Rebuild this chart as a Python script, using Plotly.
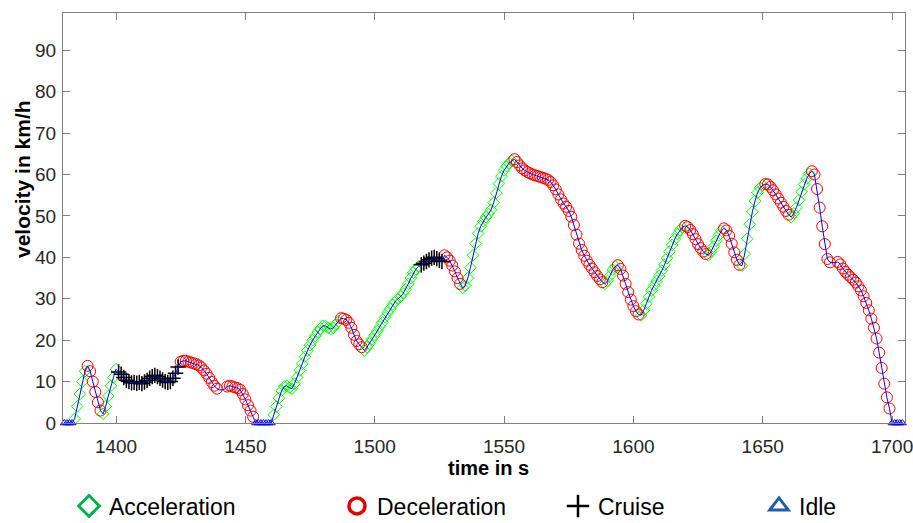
import plotly.graph_objects as go

# ---- data (1 Hz samples starting at t = 1380 s) ----
t_start = 1380
velocity_kmh = [
    0, 0, 0, 0,
    1.0, 4.0, 7.0, 10.0, 12.5,
    13.8, 12.5, 10.0, 7.5, 5.0, 3.0,
    2.2, 4.0, 6.5, 9.0, 11.0, 13.0,
    12.3, 11.8, 11.0, 10.3, 10.0, 9.7, 9.8, 9.6, 9.8, 9.5, 9.9, 10.3, 10.8, 11.2, 11.5, 11.2, 10.8, 10.4, 10.0, 9.8, 10.0, 10.8, 12.0, 13.5,
    14.8, 15.0, 15.0, 14.8, 14.6, 14.4, 14.2, 13.9, 13.4, 12.7, 11.9, 10.9, 9.9, 9.0, 8.3,
    8.0, 8.0, 8.2,
    8.8, 9.0, 8.8, 8.6, 8.4, 8.0, 7.0, 5.7, 4.3, 3.0, 1.5,
    0, 0, 0, 0, 0, 0, 0,
    2.0, 4.0, 6.0, 7.8, 8.8, 9.0, 8.5, 8.3, 9.5, 11.0, 12.7, 14.3, 16.0, 17.5, 18.8, 20.0, 21.0, 22.0, 22.8, 23.5, 23.4, 23.0, 22.7, 23.0, 23.8, 24.5,
    25.3, 25.2, 24.9, 24.2, 23.0, 21.3, 19.8, 19.0, 18.3,
    17.5, 18.3, 19.2, 20.2, 21.2, 22.2, 23.3, 24.3, 25.5, 26.6, 27.6, 28.6, 29.4, 30.0, 30.5, 31.3, 32.3, 33.6, 35.0, 36.3, 37.2, 37.8,
    38.2, 38.6, 39.0, 39.4, 39.8, 40.0, 39.7, 39.3, 39.0,
    40.5, 40.0, 39.2, 38.0, 36.6, 35.0, 33.6,
    32.6, 33.2, 35.0, 37.5, 40.5, 43.3, 45.8, 47.5, 48.7, 49.7, 50.5, 51.5, 53.2, 55.5, 57.8, 59.6, 61.0, 62.0, 62.8, 63.3,
    63.7, 63.0, 62.2, 61.5, 61.0, 60.6, 60.3, 60.0, 59.8, 59.6, 59.4, 59.2, 59.0, 58.7, 58.2, 57.4, 56.4, 55.2, 54.0, 53.0,
    52.2, 51.2, 49.8, 47.8, 45.5, 43.3, 41.8, 40.4, 39.2, 38.2, 37.3, 36.4, 35.5, 34.7, 34.0,
    33.6, 34.3, 35.6, 37.0, 37.8,
    38.1, 37.2, 35.6, 33.6, 31.6, 29.8, 28.2, 27.0, 26.2,
    26.0, 27.2, 28.8, 30.5, 32.0, 33.2, 34.3, 35.5, 36.8, 38.2, 39.8, 41.4, 43.0, 44.4, 45.6, 46.6, 47.3,
    47.6, 47.3, 46.6, 45.6, 44.4, 43.2, 42.2, 41.4, 40.8,
    40.5, 41.4, 42.6, 44.0, 45.3, 46.4,
    47.0, 46.5, 45.2, 43.3, 41.2, 39.4, 38.2,
    38.0, 40.8, 44.5, 48.0, 51.0, 53.6, 55.6, 56.8, 57.4,
    57.7, 57.6, 57.0, 56.2, 55.2, 54.2, 53.2, 52.2, 51.2, 50.3,
    49.7, 50.6, 52.0, 53.8, 55.8, 57.6, 59.0, 60.2,
    60.8, 60.0, 56.5, 52.0, 47.5, 43.2, 39.6, 38.8,
    38.7, 38.7,
    38.9, 38.3, 37.3, 36.5, 35.8, 35.2, 34.6, 33.9, 33.0, 32.0, 30.6, 29.0, 27.2, 25.2, 23.0, 20.4, 17.0, 13.3, 9.5, 6.2, 3.5,
    0, 0, 0, 0, 0,
]
# phase code per sample: A=acceleration, D=deceleration, C=cruise, I=idle, -=unclassified
phase = (
    "IIII" + "AAAAA" + "DDDDDD" + "AAAAAA" + "C" * 24 + "D" * 15 + "---" + "D" * 11 + "I" * 7
    + "A" * 26 + "D" * 9 + "A" * 22 + "C" * 9 + "D" * 7 + "A" * 20 + "D" * 35 + "A" * 5
    + "D" * 9 + "A" * 17 + "D" * 9 + "A" * 6 + "D" * 7 + "A" * 9 + "D" * 10 + "A" * 8
    + "D" * 8 + "--" + "D" * 21 + "I" * 5
)
assert len(phase) == len(velocity_kmh)
time_s = [t_start + i for i in range(len(velocity_kmh))]

x_ticks = [1400, 1450, 1500, 1550, 1600, 1650, 1700]
y_ticks = [0, 10, 20, 30, 40, 50, 60, 70, 80, 90]
legend_labels = {"A": "Acceleration", "D": "Deceleration", "C": "Cruise", "I": "Idle"}

FONT = "Liberation Sans, Arial, sans-serif"

def pick(code):
    xs = [t for t, p in zip(time_s, phase) if p == code]
    ys = [v for v, p in zip(velocity_kmh, phase) if p == code]
    return xs, ys

fig = go.Figure()

styles = {
    "A": dict(symbol="diamond-open", size=9, color="#00ff00", line=dict(width=1, color="#00ff00")),
    "D": dict(symbol="circle-open", size=11, color="#ff0000", line=dict(width=1, color="#ff0000")),
    "C": dict(symbol="cross-thin-open", size=11, color="#000000", line=dict(width=1.5, color="#000000")),
    "I": dict(symbol="triangle-up-open", size=7, color="#0000ff", line=dict(width=1, color="#0000ff")),
}
for code in ["A", "D", "C", "I"]:
    xs, ys = pick(code)
    fig.add_trace(go.Scatter(x=xs, y=ys, mode="markers", marker=styles[code],
                             showlegend=False, cliponaxis=(code != "I"), hoverinfo="skip"))

fig.add_trace(go.Scatter(x=time_s, y=velocity_kmh, mode="lines",
                         line=dict(color="#0000ff", width=1), showlegend=False))

# legend entries (separate legends to match positions)
leg_styles = {
    "A": dict(symbol="diamond-open", size=16, color="#00b050", line=dict(width=3, color="#00b050")),
    "D": dict(symbol="circle-open", size=16, color="#e00000", line=dict(width=3.5, color="#e00000")),
    "C": dict(symbol="cross-thin-open", size=16, color="#000000", line=dict(width=2.5, color="#000000")),
    "I": dict(symbol="triangle-up-open", size=16, color="#1f5fa6", line=dict(width=3, color="#1f5fa6")),
}
leg_names = {"A": "legend", "D": "legend2", "C": "legend3", "I": "legend4"}
leg_left_px = {"A": 69, "D": 337, "C": 558, "I": 759}
L, R, T, B = 63, 8, 13, 100
W, H = 913, 523
pw, ph = W - L - R, H - T - B
for code in ["A", "D", "C", "I"]:
    fig.add_trace(go.Scatter(x=[None], y=[None], mode="markers", name=legend_labels[code],
                             marker=leg_styles[code], legend=leg_names[code], showlegend=True))

legend_common = dict(orientation="h", yanchor="middle", xanchor="left",
                     font=dict(family=FONT, size=23, color="#000000"),
                     bgcolor="rgba(0,0,0,0)", itemsizing="trace")
legend_layout = {}
for code in ["A", "D", "C", "I"]:
    legend_layout[leg_names[code]] = dict(x=(leg_left_px[code] - L) / pw, y=(T + ph - 506) / ph, **legend_common)

axis_common = dict(showline=True, linecolor="#808080", linewidth=1, mirror="ticks",
                   ticks="inside", ticklen=7, tickcolor="#808080", showgrid=False, zeroline=False,
                   automargin=False, ticklabeloverflow="allow",
                   tickfont=dict(family=FONT, size=19, color="#262626"))

fig.update_layout(
    width=W, height=H,
    margin=dict(l=L, r=R, t=T, b=B, autoexpand=False),
    paper_bgcolor="white", plot_bgcolor="white",
    xaxis=dict(range=[1379.5, 1705], tickvals=x_ticks, ticklabelstandoff=6, **axis_common),
    yaxis=dict(range=[0, 99], tickvals=y_ticks, ticklabelstandoff=2, **axis_common),
    annotations=[
        dict(text="<b>time in s</b>", xref="paper", yref="paper",
             x=(488 - L) / pw, y=(T + ph - 468) / ph, xanchor="center", yanchor="middle",
             showarrow=False, font=dict(family=FONT, size=20, color="#000000")),
        dict(text="<b>velocity in km/h</b>", xref="paper", yref="paper", textangle=-90,
             x=(22 - L) / pw, y=(T + ph - 179) / ph, xanchor="center", yanchor="middle",
             showarrow=False, font=dict(family=FONT, size=21, color="#000000")),
    ],
    **legend_layout,
)

fig.write_html("out.html", config={"displayModeBar": False},
               post_script="document.body.style.margin='0px';document.body.style.overflow='hidden';")
